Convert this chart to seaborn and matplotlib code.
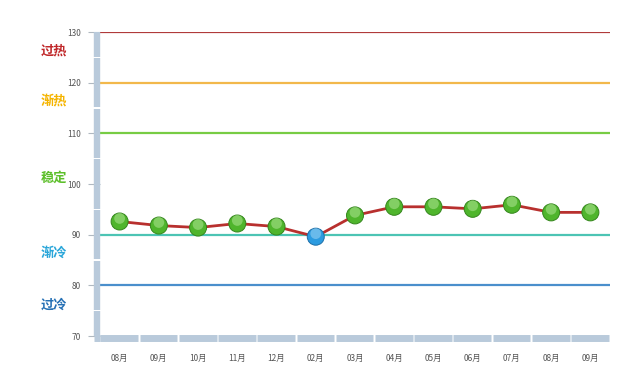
import matplotlib
matplotlib.use("Agg")
import matplotlib.pyplot as plt
import matplotlib.transforms as mtransforms
import seaborn as sns
import pandas as pd
import numpy as np

# ---- data ----
months = ["08月", "09月", "10月", "11月", "12月", "02月", "03月",
          "04月", "05月", "06月", "07月", "08月", "09月"]
values = [92.6, 91.8, 91.4, 92.2, 91.6, 89.6, 93.8, 95.5, 95.5, 95.1, 95.9, 94.4, 94.4]

level_values = [130, 120, 110, 90, 80]
level_colors = ["#b03a3a", "#f2b84b", "#77cc44", "#4cc4b4", "#4a8fcc"]

zone_names = ["过热", "渐热", "稳定", "渐冷", "过冷"]
zone_y = [126.4, 116.5, 101.3, 86.4, 76.1]
zone_colors = ["#c0282a", "#f5b400", "#5cbf2a", "#2aa6d9", "#2570b5"]

y_ticks = [70, 80, 90, 100, 110, 120, 130]

sns.set_theme(style="white")
plt.rcParams["font.family"] = ["Noto Sans CJK SC", "DejaVu Sans"]

fig = plt.figure(figsize=(6.23, 3.82), dpi=100)
ax = fig.add_axes([100 / 623, 1 - 336 / 382, 510 / 623, 304 / 382])

df = pd.DataFrame({"x": np.arange(len(months)), "v": values})

# reference level lines
for lv, c in zip(level_values, level_colors):
    ax.axhline(lv, color=c, lw=1.6, zorder=2)

# main line
sns.lineplot(data=df, x="x", y="v", ax=ax, color="#b8302e", lw=2.0, zorder=4)

# markers
cols = ["#2c9be0" if v < 90 else "#4fb52c" for v in values]
edges = ["#1d6fa8" if v < 90 else "#34861c" for v in values]
hil = ["#b5e2fa" if v < 90 else "#c4efaa" for v in values]
ax.scatter(df["x"], df["v"], s=150, c=cols, edgecolors=edges, linewidths=0.7, zorder=5)
off = mtransforms.ScaledTranslation(0, 2.2 / 72, fig.dpi_scale_trans)
ax.scatter(df["x"], df["v"], s=60, c=hil, edgecolors="none", alpha=0.45,
           marker="o", zorder=6, transform=ax.transData + off)

ax.set_xlim(-0.5, len(months) - 0.5)
ax.set_ylim(70, 130)
ax.set_yticks(y_ticks)
ax.set_yticklabels([str(t) for t in y_ticks])
ax.set_xticks(np.arange(len(months)))
ax.set_xticklabels(months)
ax.set_xlabel("")
ax.set_ylabel("")
for s in ax.spines.values():
    s.set_visible(False)
ax.tick_params(axis="y", length=9, width=0.8, color="#b0b8c0", pad=5,
               labelsize=6, labelcolor="#555555", left=True)
ax.tick_params(axis="x", length=0, pad=13, labelsize=6, labelcolor="#555555")

# left axis bar, segmented
bar_tr = mtransforms.blended_transform_factory(ax.transAxes, ax.transData)
xb = -3 / 510
for lo in np.arange(70, 130, 10):
    for a, b in [(lo, lo + 4.9), (lo + 5.1, lo + 10)]:
        ax.plot([xb, xb], [a, b], transform=bar_tr, color="#b9cadb", lw=4.6,
                solid_capstyle="butt", clip_on=False, zorder=3)

# bottom axis bar, segmented by category
bot_tr = mtransforms.blended_transform_factory(ax.transData, ax.transAxes)
yb = -1.5 / 304
ax.plot([-0.5 - 6 / 39.2, -0.5], [yb, yb], transform=bot_tr, color="#b9cadb",
        lw=5, solid_capstyle="butt", clip_on=False, zorder=3)
for i in range(len(months)):
    ax.plot([i - 0.49, i + 0.47], [yb, yb], transform=bot_tr, color="#b9cadb",
            lw=5, solid_capstyle="butt", clip_on=False, zorder=3)

# zone labels
lab_tr = mtransforms.blended_transform_factory(fig.transFigure, ax.transData)
for name, y, c in zip(zone_names, zone_y, zone_colors):
    ax.text(54 / 623, y, name, transform=lab_tr, color=c, fontsize=9.5,
            fontweight="bold", ha="center", va="center", clip_on=False)

fig.savefig("out.png", dpi=100)
